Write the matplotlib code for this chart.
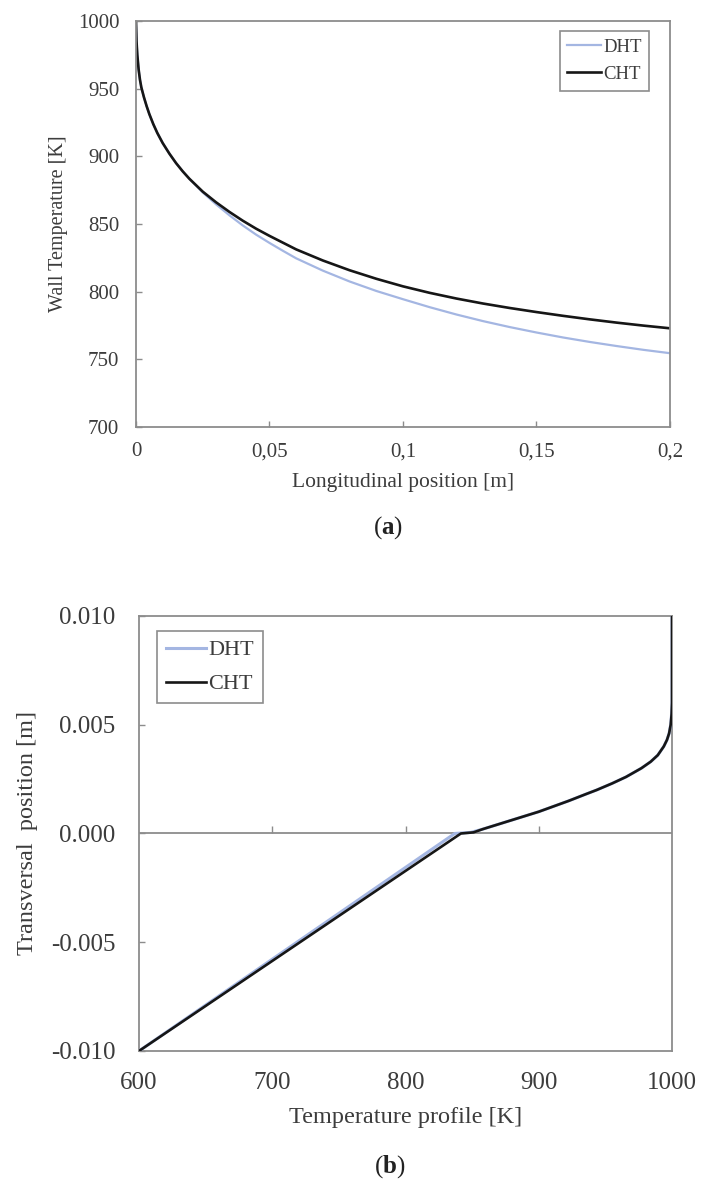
import matplotlib
matplotlib.use("Agg")
import matplotlib.pyplot as plt

plt.rcParams['font.family'] = ['Liberation Serif', 'DejaVu Serif']
plt.rcParams['mathtext.fontset'] = 'custom'
plt.rcParams['mathtext.rm'] = 'Liberation Serif'
plt.rcParams['mathtext.bf'] = 'Liberation Serif:bold'

# (a) wall temperature along the channel
x_long = [0, 0.0002, 0.0005, 0.001, 0.0015, 0.002, 0.003, 0.004, 0.005, 0.0065,
          0.008, 0.01, 0.0125, 0.015, 0.0175, 0.02, 0.025, 0.03, 0.035, 0.04,
          0.045, 0.05, 0.055, 0.06, 0.07, 0.08, 0.09, 0.1, 0.11, 0.12, 0.13,
          0.14, 0.15, 0.16, 0.17, 0.18, 0.19, 0.2]
t_cht = [1000, 985, 975, 964, 956.5, 951, 943.5, 937, 931.2, 923.7,
         917.2, 909.8, 902, 895, 888.9, 883.4, 873.9, 866, 858.9, 852.4,
         846.5, 841.2, 836.2, 831.2, 823, 815.8, 809.5, 803.9, 799.1, 794.9, 791.2,
         787.9, 784.9, 782.1, 779.5, 777.1, 774.9, 772.9]
t_dht = [1000, 985, 975, 964, 956.5, 951, 943.5, 937, 931.2, 923.7,
         917.2, 909.8, 902, 895, 888.9, 883.4, 873.3, 864.5, 856.4, 848.9,
         842.1, 836, 830.2, 824.6, 815.5, 807.5, 800.5, 794.4, 788.5, 783.1, 778.2,
         773.8, 769.8, 766.1, 762.8, 759.8, 757, 754.5]
xticks_a = [0, 0.05, 0.1, 0.15, 0.2]
xticklabels_a = ['0', '0,05', '0,1', '0,15', '0,2']
yticks_a = [700, 750, 800, 850, 900, 950, 1000]

# (b) transversal temperature profile (solid below 0, fluid above)
y_trans = [-0.010, -0.005, 0.0, 0.00005, 0.0002, 0.0004, 0.0006, 0.0008, 0.001,
           0.0012, 0.0015, 0.0018, 0.002, 0.0023, 0.0026, 0.003, 0.0033, 0.0036,
           0.004, 0.0043, 0.0046, 0.005, 0.0055, 0.006, 0.008, 0.010]
tp_cht = [600, 720.8, 841.6, 851, 858, 868.5, 879, 889.5, 900,
          909, 922.5, 935, 943.5, 955, 965.5, 977, 984, 989.3,
          993.8, 996.2, 997.8, 999, 999.7, 1000, 1000, 1000]
tp_dht = [600, 718.5, 837, 849, 858, 868.5, 879, 889.5, 900,
          909, 922.5, 935, 943.5, 955, 965.5, 977, 984, 989.3,
          993.8, 996.2, 997.8, 999, 999.7, 1000, 1000, 1000]
xticks_b = [600, 700, 800, 900, 1000]
yticks_b = [-0.010, -0.005, 0.0, 0.005, 0.010]
yticklabels_b = ['-0.010', '-0.005', '0.000', '0.005', '0.010']

blue = '#a4b6e2'
black = '#161616'
grey = '#8c8c8c'
txt = '#3c3c3c'

fig = plt.figure(figsize=(7.02, 11.85), dpi=100)

# ---- (a)
ax1 = fig.add_axes([0.1937, 0.6397, 0.7607, 0.3426])
ax1.plot(x_long, t_dht, color=blue, lw=1.6, label='DHT')
ax1.plot(x_long, t_cht, color=black, lw=1.9, label='CHT')
ax1.set_xlim(0, 0.2)
ax1.set_ylim(700, 1000)
ax1.set_xticks(xticks_a)
ax1.set_xticklabels(xticklabels_a)
ax1.set_yticks(yticks_a)
ax1.tick_params(direction='in', length=4, width=1, color=grey, labelsize=15,
                labelcolor=txt)
ax1.tick_params(axis='y', pad=12)
ax1.tick_params(axis='x', pad=11)
for s in ax1.spines.values():
    s.set_color(grey)
    s.set_linewidth(1.3)
ax1.set_xlabel('Longitudinal position [m]', fontsize=15.5, color=txt)
ax1.set_ylabel('Wall Temperature [K]', fontsize=14.5, color=txt)
ax1.xaxis.set_label_coords(0.5, -0.138)
ax1.xaxis.label.set_va('center')
ax1.yaxis.set_label_coords(-0.146, 0.5)
ax1.yaxis.label.set_va('center')
leg1 = ax1.legend(loc='upper right', bbox_to_anchor=(0.9607, 0.9754), borderaxespad=0,
                  fontsize=13.5, fancybox=False, handlelength=1.8, handletextpad=0.1,
                  labelspacing=0.55, borderpad=0.4, framealpha=1)
leg1.get_frame().set_edgecolor(grey)
leg1.get_frame().set_linewidth(1.2)
for t in leg1.get_texts():
    t.set_color(txt)

fig.text(0.553, 0.5544, r'($\mathbf{a}$)', fontsize=18, ha='center', va='center',
         color='#222222')

# ---- (b)
ax2 = fig.add_axes([0.198, 0.1131, 0.7593, 0.3671])
ax2.axhline(0, color=grey, lw=1.3, zorder=1)
ax2.plot(xticks_b[1:-1], [0] * len(xticks_b[1:-1]), ls='none', marker=2,
         ms=5, mew=1, color=grey, zorder=1)
ax2.plot(tp_dht, y_trans, color=blue, lw=2.2, label='DHT', zorder=3)
ax2.plot(tp_cht, y_trans, color=black, lw=1.9, label='CHT', zorder=4)
ax2.set_xlim(600, 1000)
ax2.set_ylim(-0.010, 0.010)
ax2.set_xticks(xticks_b)
ax2.set_yticks(yticks_b)
ax2.set_yticklabels(yticklabels_b)
ax2.tick_params(axis='x', length=0, pad=15, labelsize=18, labelcolor=txt)
ax2.tick_params(axis='y', direction='in', length=4, width=1, color=grey, pad=17,
                labelsize=18, labelcolor=txt)
for s in ax2.spines.values():
    s.set_color(grey)
    s.set_linewidth(1.3)
ax2.set_xlabel('Temperature profile [K]', fontsize=17.5, color=txt)
ax2.set_ylabel('Transversal  position [m]', fontsize=17.5, color=txt)
ax2.xaxis.set_label_coords(0.5, -0.154)
ax2.xaxis.label.set_va('center')
ax2.yaxis.set_label_coords(-0.21, 0.5)
ax2.yaxis.label.set_va('center')
leg2 = ax2.legend(loc='upper left', bbox_to_anchor=(0.0338, 0.9655), borderaxespad=0,
                  fontsize=16, fancybox=False, handlelength=1.8, handletextpad=0.1,
                  labelspacing=0.6, borderpad=0.4, framealpha=1)
leg2.get_frame().set_edgecolor(grey)
leg2.get_frame().set_linewidth(1.2)
for t in leg2.get_texts():
    t.set_color(txt)

fig.text(0.555, 0.0152, r'($\mathbf{b}$)', fontsize=18, ha='center', va='center',
         color='#222222')

fig.savefig('out.png', dpi=100, facecolor='white')
